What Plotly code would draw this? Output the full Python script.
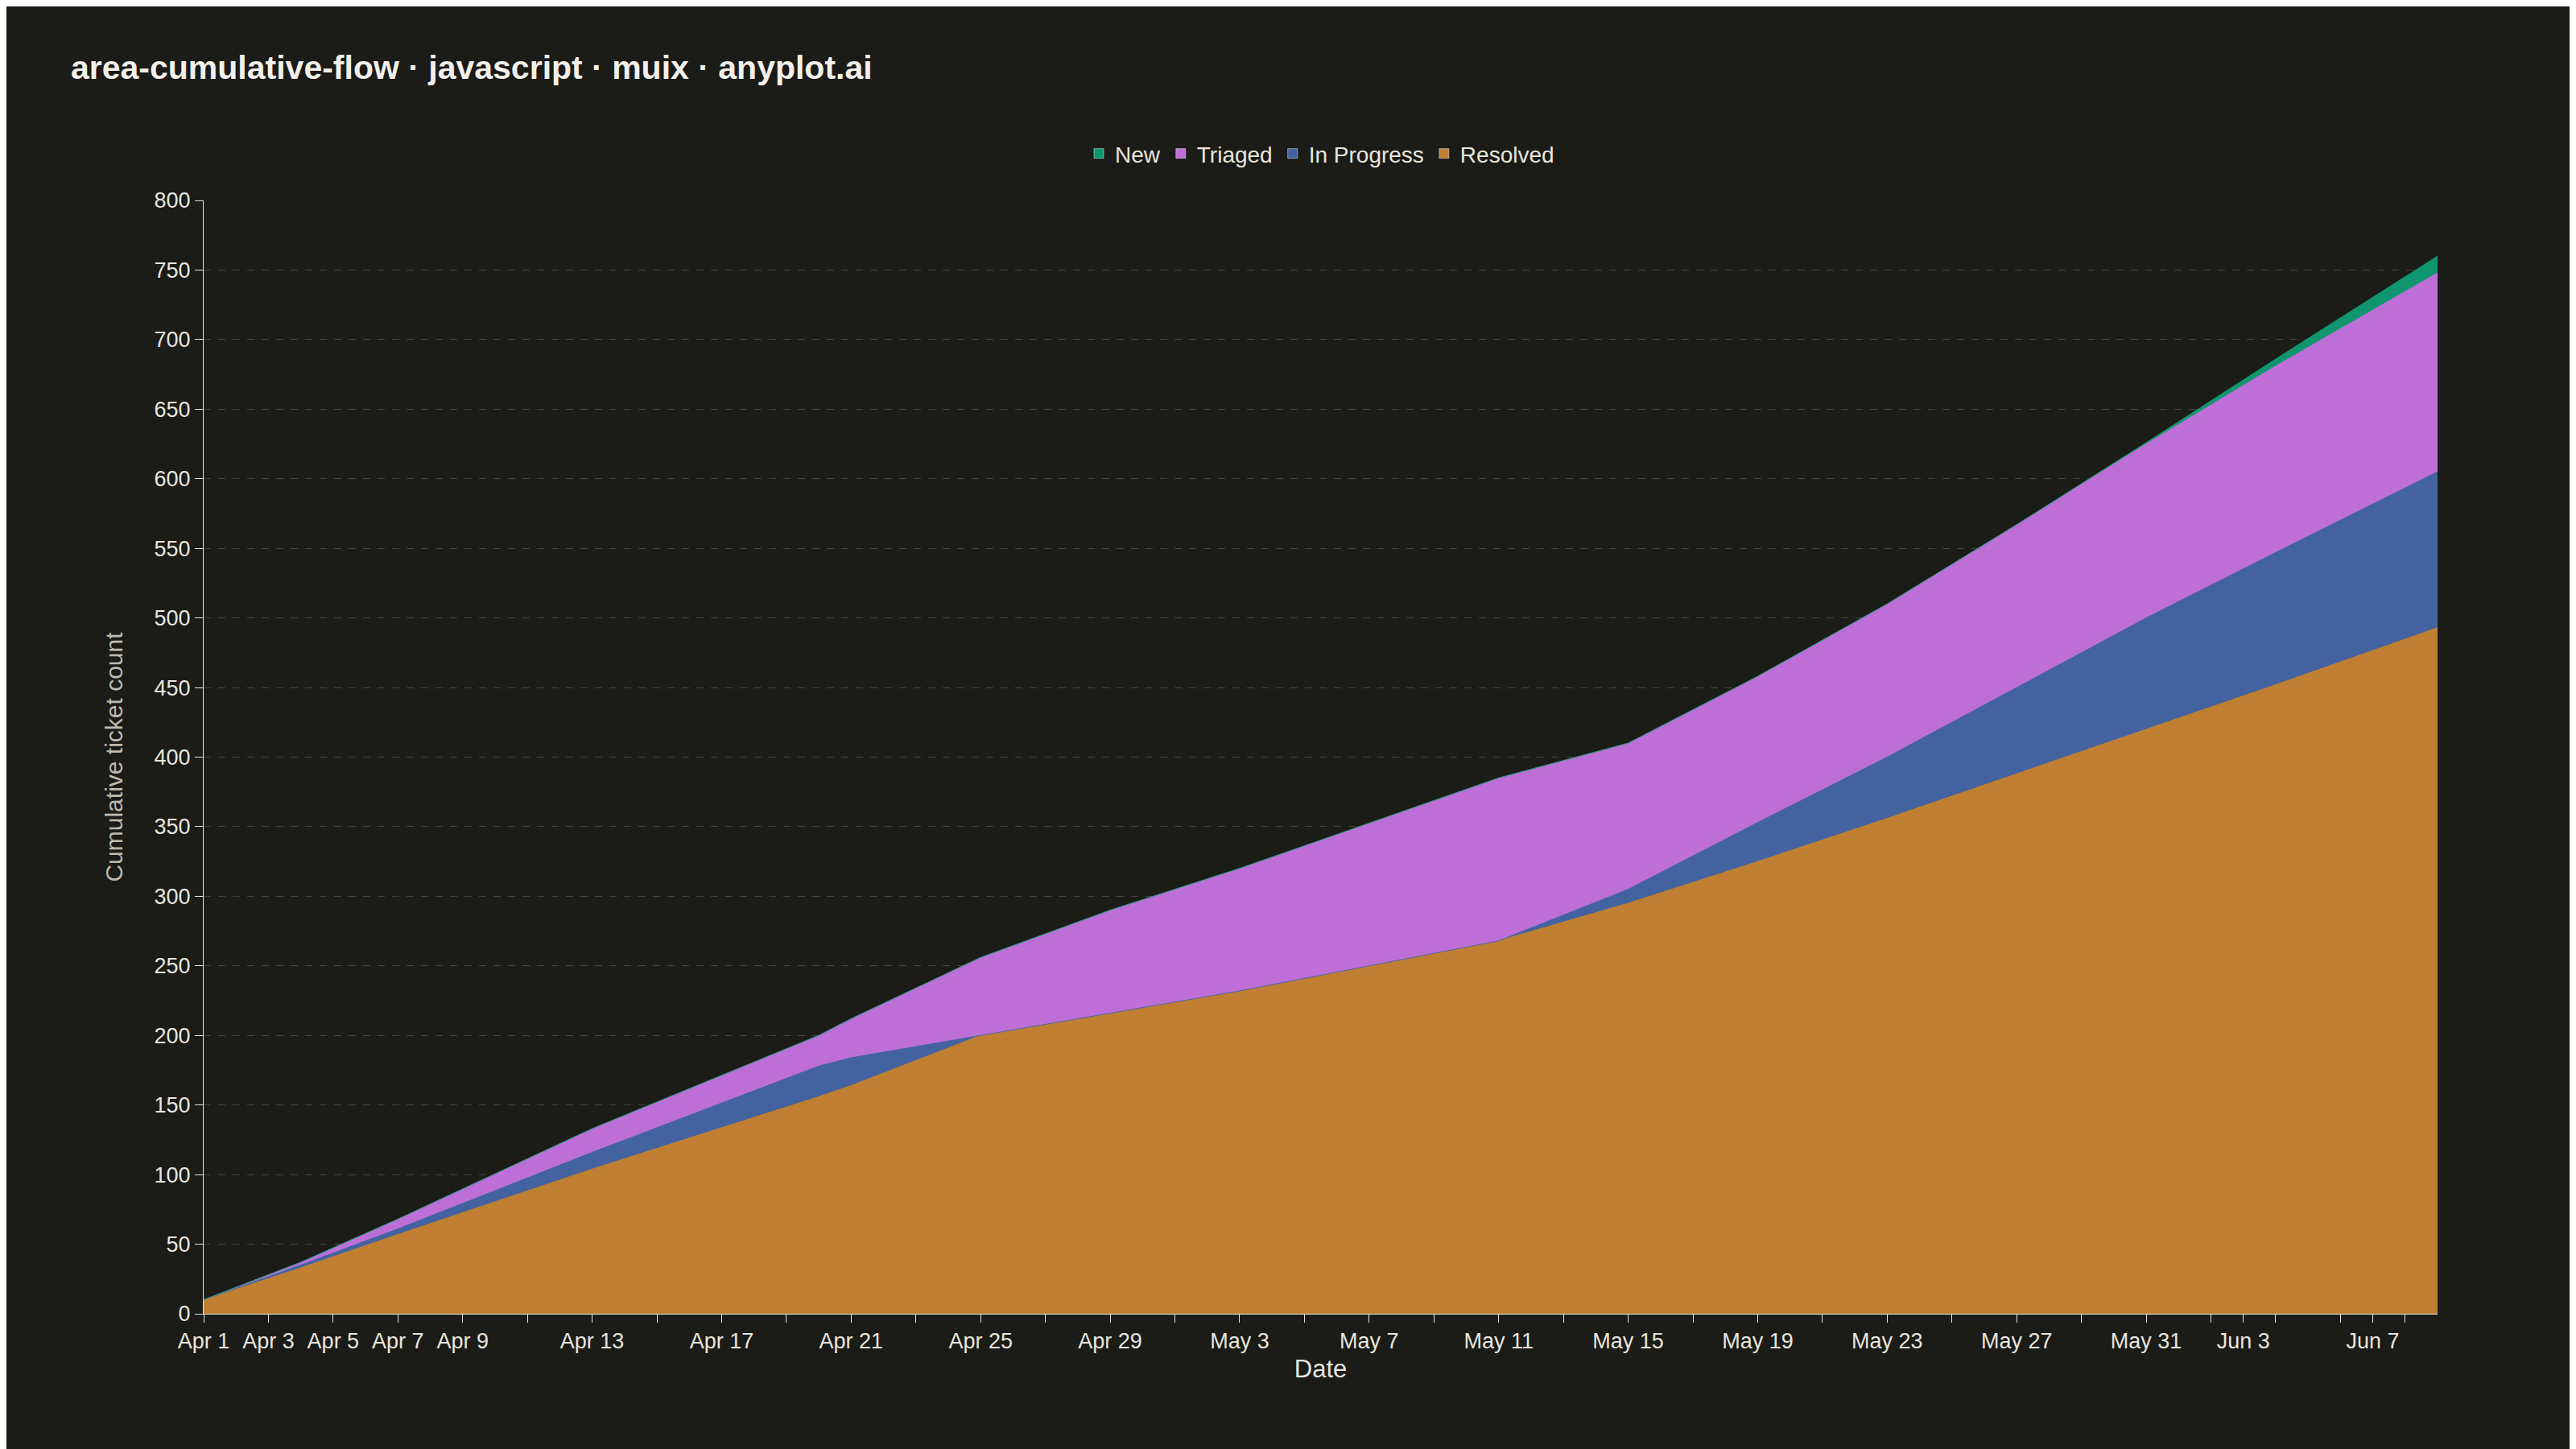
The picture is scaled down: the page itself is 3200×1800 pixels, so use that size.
import plotly.graph_objects as go

dates = ["2024-04-01", "2024-04-04", "2024-04-07", "2024-04-13", "2024-04-20", "2024-04-21",
         "2024-04-25", "2024-04-29", "2024-05-03", "2024-05-11", "2024-05-15", "2024-05-19",
         "2024-05-23", "2024-05-27", "2024-05-31", "2024-06-04", "2024-06-09"]
# stacked amounts per stage (bottom to top)
resolved = [10, 33, 57, 104, 156, 164, 200, 216, 232, 268, 295, 325, 356, 388, 420, 452, 493]
in_progress = [0, 2, 4, 12, 22, 20, 0, 0, 0, 0, 10, 28, 44, 62, 80, 95, 112]
triaged = [0, 2, 7, 17, 22, 28, 56, 74, 88, 117, 105, 105, 110, 117, 125, 134, 143]
new = [0, 0, 0, 0, 0, 0, 0, 0, 0, 0, 0, 0, 0, 0, 1, 5, 12]

tick_vals = ["2024-04-01", "2024-04-03", "2024-04-05", "2024-04-07", "2024-04-09", "2024-04-13",
             "2024-04-17", "2024-04-21", "2024-04-25", "2024-04-29", "2024-05-03", "2024-05-07",
             "2024-05-11", "2024-05-15", "2024-05-19", "2024-05-23", "2024-05-27", "2024-05-31",
             "2024-06-03", "2024-06-07"]
tick_text = ["Apr 1", "Apr 3", "Apr 5", "Apr 7", "Apr 9", "Apr 13", "Apr 17", "Apr 21", "Apr 25",
             "Apr 29", "May 3", "May 7", "May 11", "May 15", "May 19", "May 23", "May 27",
             "May 31", "Jun 3", "Jun 7"]

series = [("Resolved", resolved, "rgba(201,133,52,0.95)"),
          ("In Progress", in_progress, "rgba(68,103,168,0.95)"),
          ("Triaged", triaged, "rgba(199,116,226,0.95)"),
          ("New", new, "rgba(16,157,116,0.95)")]

fig = go.Figure()
for name, vals, col in series:
    fig.add_trace(go.Scatter(x=dates, y=vals, name=name, stackgroup="one", mode="lines",
                             line=dict(width=1, color=col), fillcolor=col, showlegend=False))
# square legend swatches
for name, vals, col in series:
    fig.add_trace(go.Bar(x=[None], y=[None], name=name, marker_color=col, showlegend=True))

grid = "rgba(255,255,255,0.18)"
fig.update_layout(
    width=3200, height=1800,
    paper_bgcolor="#1b1b18", plot_bgcolor="#1b1b18",
    font=dict(family="Liberation Sans, Arial", color="#e8e6df", size=27),
    title=dict(text="<b>area-cumulative-flow · javascript · muix · anyplot.ai</b>",
               x=0.025, y=0.958, xanchor="left", yanchor="middle", font=dict(size=41, color="#f2f0ea")),
    margin=dict(l=245, r=180, t=241, b=176),
    legend=dict(orientation="h", x=0.5, xanchor="center", y=1.042, yanchor="middle",
                traceorder="reversed", font=dict(size=28)),
    xaxis=dict(title=dict(text="Date", font=dict(size=31), standoff=8),
               range=["2024-04-01", "2024-06-09"], tickvals=tick_vals, ticktext=tick_text,
               showgrid=False, showline=True, linecolor="#e8e6df", ticks="outside", ticklen=10,
               tickcolor="#e8e6df",
               minor=dict(dtick=2 * 86400000, tick0="2024-04-01", ticks="outside", ticklen=10,
                          tickcolor="#e8e6df", showgrid=False)),
    yaxis=dict(title=dict(text="Cumulative ticket count", font=dict(size=30, color="#bdbab2"), standoff=30),
               range=[0, 800], dtick=50, showgrid=True, gridcolor=grid, griddash="dash",
               showline=True, linecolor="#e8e6df", ticks="outside", ticklen=10, tickcolor="#e8e6df",
               zeroline=False),
)
fig.write_html("out.html")
